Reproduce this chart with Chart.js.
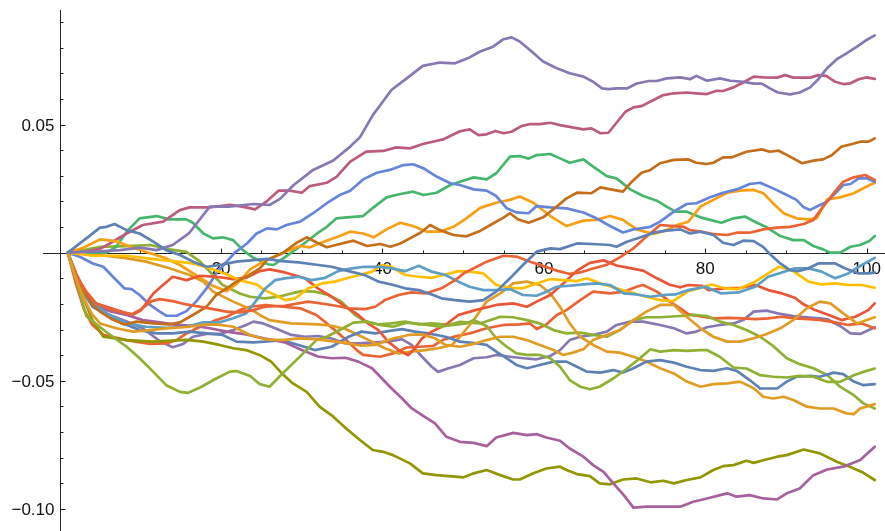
<!DOCTYPE html>
<html><head><meta charset="utf-8">
<script src="https://cdn.jsdelivr.net/npm/chart.js@4/dist/chart.umd.min.js"></script>
<style>html,body{margin:0;padding:0;background:#fff;}#wrap{width:885px;height:531px;}</style>
</head><body><div id="wrap"><canvas id="c" width="885" height="531"></canvas></div>
<script>
const xTickValues = [20, 40, 60, 80, 100];
const xTickLabels = ['20', '40', '60', '80', '100'];
const yTickValues = [0.05, -0.05, -0.10];
const yTickLabels = ['0.05', '\u22120.05', '\u22120.10'];

const blueB1 = [[1,0],[3.3,0.0056],[5,0.0098],[5.8,0.0101],[6.8,0.0112],[8.3,0.0088],[9.9,0.0075],[11.6,0.0043],[13.2,0.001],[14.9,-0.0009],[16.5,-0.0035],[18.2,-0.0055],[19.9,-0.0048],[21.9,-0.0035],[24,-0.0029],[25.7,-0.0024],[27.5,-0.0033],[29.6,-0.0038],[31.6,-0.0046],[33.7,-0.0055],[35.8,-0.0072],[37.8,-0.0087],[39.5,-0.0113],[41.1,-0.0124],[42.8,-0.0139],[44.5,-0.0146],[46.1,-0.0163],[47.3,-0.0178],[49,-0.0185],[50.8,-0.0191],[52.5,-0.0185],[54.1,-0.0152],[55.8,-0.01],[57.4,-0.0048],[59.1,0.0004],[60.8,0.0017],[62,0.0014],[64.1,0.0036],[66.5,0.0033],[68.2,0.003],[69,0.0023],[70.3,0.0043],[71.9,0.0059],[73.6,0.0078],[75.2,0.0086],[76.9,0.0091],[78.1,0.0075],[79.4,0.0082],[81,0.0069],[82.2,0.0039],[83.5,0.003],[84.7,0.0047],[86,0.0045],[87.2,0.0022],[88,-0.0005],[89.3,-0.0042],[90.5,-0.0068],[91.5,-0.0072],[92.8,-0.0061],[94,-0.0042],[96.1,-0.0042],[97.3,-0.0061],[99,-0.0081],[100.2,-0.0081],[101,-0.0078]];
const orangeO1 = [[1,0],[2,-0.01],[3,-0.018],[4,-0.024],[5,-0.0276],[7,-0.0295],[9.1,-0.0308],[11.2,-0.0302],[13.2,-0.0295],[15.7,-0.029],[17.8,-0.0282],[19.4,-0.028],[21.5,-0.0289],[23.6,-0.0321],[25.4,-0.0338],[27.5,-0.0341],[29.6,-0.0334],[31.6,-0.0337],[33.7,-0.0345],[35.8,-0.0354],[37.4,-0.0363],[39.1,-0.036],[41.1,-0.0337],[43.2,-0.0321],[44.9,-0.0319],[46.5,-0.0334],[47.8,-0.036],[49.6,-0.0367],[51.3,-0.0356],[52.9,-0.0341],[54.6,-0.0328],[56.2,-0.0328],[57.9,-0.0341],[59.5,-0.036],[61.2,-0.038],[62.4,-0.0399],[63.6,-0.039],[64.9,-0.0377],[66.1,-0.0341],[67.8,-0.0321],[69.4,-0.0302],[71.1,-0.0263],[72.7,-0.023],[74.4,-0.0204],[76.1,-0.0204],[77.7,-0.025],[79.4,-0.0295],[81,-0.0328],[82.7,-0.0347],[84.3,-0.0347],[86,-0.0334],[87.6,-0.0317],[89.3,-0.0295],[90.9,-0.0263],[92.6,-0.0217],[94.2,-0.0191],[95.5,-0.0198],[97.1,-0.0237],[98.8,-0.0276],[101,-0.0252]];
const greenG1 = [[1,0],[2,-0.01],[3.3,-0.0248],[6.2,-0.032],[8.3,-0.0367],[9.9,-0.0412],[11.6,-0.0465],[13.2,-0.0517],[14.9,-0.0543],[15.9,-0.0547],[17.4,-0.0526],[19.4,-0.0491],[21.1,-0.0464],[21.9,-0.0462],[23.6,-0.0481],[24.8,-0.0513],[26,-0.0523],[27.3,-0.0481],[28.9,-0.0432],[30.6,-0.038],[31.8,-0.0341],[33.1,-0.0328],[35.1,-0.0295],[36.4,-0.0273],[38,-0.0269],[39.7,-0.0282],[41.3,-0.0289],[43,-0.0273],[44.6,-0.0278],[47.1,-0.0289],[48.8,-0.0282],[50.4,-0.0276],[51.3,-0.0263],[52.9,-0.0286],[54.1,-0.0334],[55.4,-0.0367],[56.6,-0.0393],[57.9,-0.0399],[59.5,-0.0399],[60.8,-0.0412],[62,-0.0445],[63.2,-0.0497],[64.5,-0.0523],[65.7,-0.0533],[66.9,-0.0523],[68.6,-0.0491],[70.3,-0.0452],[71.9,-0.0412],[73.2,-0.0377],[74.4,-0.0386],[76.1,-0.038],[77.7,-0.0383],[79.4,-0.038],[80.2,-0.038],[81.8,-0.0406],[83.5,-0.0448],[85.1,-0.0452],[86.8,-0.0478],[88.4,-0.0484],[90.1,-0.0487],[91.7,-0.0481],[93.4,-0.0484],[95.1,-0.0504],[96.7,-0.0504],[98.4,-0.0478],[99.6,-0.0465],[101,-0.0452]];
const redA = [[1,0],[2,-0.0087],[3.3,-0.0152],[4.5,-0.0198],[6.2,-0.022],[7.9,-0.0233],[8.9,-0.0241],[10.1,-0.022],[11.4,-0.0189],[12.4,-0.0181],[14,-0.0189],[15.7,-0.0202],[17.4,-0.0211],[19,-0.022],[20.7,-0.023],[22.3,-0.0233],[24,-0.0224],[25.4,-0.0211],[27.9,-0.0207],[30.8,-0.0191],[33.7,-0.0204],[35.8,-0.0217],[37.8,-0.022],[39.1,-0.0211],[40.3,-0.0185],[42,-0.0165],[43.6,-0.0155],[45.3,-0.0159],[47.3,-0.0139],[49,-0.0107],[50.2,-0.0078],[51.5,-0.0058],[52.9,-0.0035],[55,-0.0012],[56.6,-0.0015],[58.3,-0.0035],[59.9,-0.0052],[61.6,-0.007],[63.2,-0.0083],[64.5,-0.0077],[66.1,-0.0062],[67.8,-0.0047],[69.4,-0.0018],[71.1,0.0017],[72.7,0.0062],[74.4,0.0108],[76.1,0.0104],[77.3,0.0101],[78.1,0.0088],[79.4,0.0082],[81,0.0073],[82.7,0.0069],[83.9,0.0078],[85.5,0.0078],[87.2,0.0091],[88.9,0.0098],[90.5,0.0101],[92.2,0.0112],[93.4,0.0128],[94.6,0.018],[95.9,0.0232],[97.1,0.0277],[98.4,0.0294],[99.8,0.0303],[101,0.0284]];
const purpleTop = [[1,0],[3,0.0003],[5,0.0005],[7.5,0.001],[10,0.002],[12,0.001],[14,0.003],[16,0.0075],[18.6,0.018],[21,0.018],[24,0.019],[26,0.0186],[27.3,0.021],[29,0.0264],[31.4,0.0323],[33.9,0.036],[36,0.0414],[37.2,0.045],[38.8,0.0537],[39.9,0.0583],[41.1,0.0635],[43,0.068],[45,0.0729],[47.1,0.0742],[49,0.0739],[50.8,0.0762],[52.1,0.0785],[53.7,0.0804],[55,0.0833],[56,0.084],[57,0.0824],[58.3,0.079],[59.9,0.0746],[61.6,0.072],[63.2,0.07],[64.9,0.0687],[66.1,0.0667],[67.2,0.0641],[68,0.0638],[69,0.0641],[70.3,0.0641],[71.5,0.066],[73,0.067],[74,0.067],[75.2,0.068],[76.9,0.0684],[78.1,0.0677],[78.9,0.069],[80.2,0.0671],[81.8,0.068],[83.1,0.0671],[84.7,0.0667],[86,0.066],[87,0.066],[88,0.0641],[89,0.0625],[90.5,0.0618],[91.7,0.0625],[93,0.0645],[94,0.0677],[95.1,0.072],[96.3,0.0755],[97.5,0.0778],[98.8,0.0804],[100,0.083],[101,0.0848]];
const brown = [[1,0],[2,-0.008],[3,-0.015],[4,-0.02],[5,-0.023],[6.5,-0.026],[8,-0.028],[9.5,-0.0269],[11.6,-0.0276],[13.6,-0.028],[14.9,-0.0272],[16.5,-0.0243],[18.2,-0.0211],[19.4,-0.0165],[20.7,-0.0139],[21.9,-0.0113],[23.1,-0.0094],[24.8,-0.0061],[25.7,-0.0029],[27.7,0],[29.4,0.0039],[30.6,0.006],[31.9,0.0039],[33.1,0.0021],[34.7,0.0034],[36.4,0.0047],[38.1,0.0026],[39.7,0.0034],[41,0.0023],[42.2,0.0036],[43.4,0.0056],[44.7,0.0078],[45.9,0.0108],[47.1,0.0088],[48.8,0.0069],[50.4,0.0064],[52.1,0.0085],[53.7,0.0114],[55,0.0137],[55.8,0.0154],[56.8,0.013],[58.1,0.0117],[59.9,0.0138],[61.6,0.018],[62.8,0.0212],[64.1,0.0234],[65.9,0.0232],[67,0.0255],[68.6,0.0245],[69.8,0.0238],[70.9,0.0277],[72.1,0.0312],[73.2,0.0323],[74.4,0.0349],[76.1,0.0362],[77.9,0.0364],[78.9,0.0351],[80.2,0.0346],[81,0.0351],[82.2,0.0372],[83.3,0.0372],[85.1,0.0394],[87,0.0403],[88,0.0394],[89.1,0.0398],[90.5,0.0375],[92,0.0349],[93.4,0.0359],[94.6,0.0364],[95.7,0.0381],[96.9,0.0414],[98.2,0.0424],[99.2,0.0433],[100.2,0.0433],[101,0.0446]];
const lightBlue = [[1,0],[2,-0.01],[3.5,-0.018],[5.8,-0.0237],[8.3,-0.0276],[10.7,-0.0289],[13.2,-0.0293],[15.7,-0.0289],[17.8,-0.0272],[19.8,-0.0272],[21.5,-0.0256],[23.1,-0.0237],[24.4,-0.0185],[25.4,-0.0142],[26.7,-0.0107],[27.9,-0.01],[29.6,-0.0094],[31.2,-0.0107],[32.9,-0.0098],[34.5,-0.0072],[36.2,-0.0061],[37.8,-0.0055],[39.5,-0.0055],[41.1,-0.0061],[42.8,-0.0072],[44.5,-0.0051],[46.1,-0.0074],[47.8,-0.0087],[49.4,-0.0113],[50.8,-0.0133],[52.5,-0.0146],[54.1,-0.0146],[55.8,-0.0142],[57.4,-0.0165],[59.1,-0.0168],[60.3,-0.0152],[61.6,-0.0133],[63.2,-0.0129],[64.9,-0.0124],[66.5,-0.012],[68.2,-0.0126],[69.9,-0.0159],[71.5,-0.0163],[73.2,-0.0172],[74.8,-0.0165],[76.3,-0.0163],[77.9,-0.0146],[80,-0.0133],[82,-0.0159],[84.1,-0.0155],[86.2,-0.0133],[87.8,-0.0094],[89.5,-0.0077],[91.1,-0.0061],[92.8,-0.0061],[94.4,-0.0074],[96.1,-0.01],[97.7,-0.0081],[99.4,-0.0048],[101,-0.002]];
const yellow = [[1,0],[4.1,-0.0012],[8.3,-0.0012],[11.6,-0.0025],[14,-0.0033],[16.5,-0.0042],[18.6,-0.0061],[20.7,-0.0085],[22.3,-0.0107],[24.4,-0.0124],[25.4,-0.0146],[26.7,-0.0165],[27.9,-0.0185],[29.2,-0.0178],[30.8,-0.0139],[32.5,-0.012],[34.1,-0.0113],[35.8,-0.0098],[37.4,-0.0085],[38.7,-0.0074],[39.9,-0.0048],[41.1,-0.0055],[42.8,-0.0087],[44.5,-0.0094],[46.1,-0.0098],[47.8,-0.0085],[49.4,-0.0072],[50.8,-0.0074],[52.5,-0.0081],[54.1,-0.0126],[55.8,-0.0137],[57.4,-0.0139],[59.1,-0.012],[60.8,-0.0103],[62.4,-0.0107],[64.1,-0.0111],[65.3,-0.01],[67.4,-0.0124],[69,-0.0139],[70.7,-0.0155],[72.7,-0.0172],[74.4,-0.0185],[76,-0.0189],[77.9,-0.015],[80.8,-0.0124],[82.4,-0.0139],[84.1,-0.0142],[86.2,-0.0113],[87.8,-0.0081],[89.1,-0.0055],[90.7,-0.0068],[92.8,-0.0113],[94.4,-0.0124],[96.1,-0.012],[97.7,-0.0126],[99.4,-0.0126],[101,-0.0137]];
const magenta = [[1,0],[2.5,-0.0133],[4.1,-0.0204],[6.2,-0.0228],[8.3,-0.0243],[10.3,-0.0263],[12.4,-0.0272],[14.5,-0.0282],[16.5,-0.0285],[18.6,-0.0295],[20.7,-0.0308],[23.1,-0.0319],[25.4,-0.0335],[27.9,-0.035],[30,-0.038],[32,-0.0405],[33.7,-0.0412],[35.4,-0.041],[37,-0.0425],[38.7,-0.0451],[39.9,-0.049],[41.1,-0.0529],[42.4,-0.0568],[43.6,-0.0607],[44.9,-0.0634],[46.5,-0.0666],[47.9,-0.0718],[49.6,-0.0738],[51.3,-0.0742],[52.9,-0.0755],[54.1,-0.0721],[56.2,-0.0703],[57.9,-0.0712],[59.1,-0.0708],[60.3,-0.0721],[62,-0.0734],[63.2,-0.0764],[64.9,-0.0796],[66.1,-0.0829],[67.4,-0.0855],[68.6,-0.09],[69.9,-0.0946],[71.1,-0.0995],[72.7,-0.0991],[74.4,-0.0991],[76.9,-0.0991],[78.5,-0.0972],[80.2,-0.0959],[82.7,-0.0939],[83.9,-0.0952],[85.5,-0.0946],[87.2,-0.0959],[88.9,-0.0963],[90.1,-0.0939],[91.7,-0.092],[93.4,-0.0868],[95.1,-0.0846],[97.1,-0.0835],[99.2,-0.0809],[101,-0.0757]];
const olive = [[1,0],[2,-0.01],[3,-0.018],[4,-0.026],[5.4,-0.0328],[8.3,-0.0341],[11.6,-0.0347],[15.7,-0.034],[17.8,-0.0347],[19.8,-0.036],[21.5,-0.0373],[23.1,-0.038],[24.8,-0.04],[26.2,-0.0425],[27.5,-0.047],[28.9,-0.051],[30.6,-0.0543],[32.2,-0.0601],[33.9,-0.064],[35.5,-0.0686],[37.2,-0.0731],[38.8,-0.077],[40.1,-0.0777],[41.3,-0.079],[43.4,-0.0822],[45,-0.0861],[46.7,-0.0868],[48.3,-0.0872],[50,-0.0877],[51.3,-0.0861],[52.9,-0.0848],[54.6,-0.0868],[56.2,-0.0885],[57,-0.0885],[58.7,-0.0861],[60.3,-0.0842],[62,-0.0835],[62.8,-0.0848],[64.1,-0.0864],[65.7,-0.0872],[66.9,-0.09],[68.2,-0.0904],[69.8,-0.0885],[71.5,-0.0881],[73.2,-0.0896],[74.8,-0.089],[76.1,-0.09],[77.7,-0.0887],[79.4,-0.0877],[81,-0.0848],[82.2,-0.0833],[83.5,-0.0829],[85.1,-0.0812],[86,-0.082],[87.2,-0.081],[88.9,-0.0796],[90.1,-0.079],[92.2,-0.0768],[94.2,-0.0783],[96.3,-0.0816],[97.9,-0.0835],[99.6,-0.0859],[101,-0.0887]];
const redC = [[1,0],[2.1,-0.0087],[3.3,-0.0159],[4.5,-0.0198],[6.2,-0.0215],[7.9,-0.0233],[9.1,-0.0241],[10.1,-0.0224],[11.6,-0.0159],[12.8,-0.0126],[14,-0.0094],[15.7,-0.0107],[17.4,-0.009],[19.4,-0.0094],[21.5,-0.0103],[23.1,-0.0098],[24.8,-0.0072],[26,-0.0065],[27.9,-0.0077],[30.4,-0.01],[32,-0.0139],[33.7,-0.0172],[35.4,-0.0211],[37,-0.0243],[38.2,-0.0276],[39.5,-0.0302],[40.7,-0.0347],[42,-0.038],[43.2,-0.04],[44,-0.0373],[44.9,-0.0334],[46.1,-0.0308],[47.8,-0.0282],[49.4,-0.0243],[51.5,-0.0224],[54.1,-0.0204],[56.2,-0.0198],[57.9,-0.0211],[59.1,-0.0191],[60.8,-0.0165],[62.4,-0.012],[64.1,-0.007],[65.7,-0.004],[67.4,-0.003],[69,-0.005],[70.7,-0.006],[72.3,-0.007],[74,-0.01],[75.6,-0.0125],[76.9,-0.0135],[77.9,-0.0126],[79.6,-0.0129],[80.4,-0.0146],[82.4,-0.0139],[84.5,-0.0137],[86.2,-0.0126],[87.8,-0.0146],[89.5,-0.0159],[91.1,-0.0176],[92,-0.0198],[93.6,-0.0224],[95.3,-0.0243],[96.9,-0.0263],[98.6,-0.025],[100.2,-0.0224],[101,-0.0198]];
const blue12 = [[1,0],[2.5,-0.0016],[4.1,-0.0042],[5.4,-0.0055],[6.6,-0.0094],[8,-0.0139],[8.9,-0.0142],[9.9,-0.0165],[11.2,-0.0204],[12.4,-0.023],[13.2,-0.0246],[14.5,-0.0246],[15.7,-0.0228],[16.9,-0.0191],[18.2,-0.0139],[19.4,-0.0081],[20.7,-0.0035],[21.7,0],[23.2,0.0036],[24.4,0.0075],[25.7,0.0095],[26.9,0.0091],[28.1,0.0108],[29.8,0.0121],[31.4,0.0154],[33.1,0.0193],[34.7,0.0225],[36,0.0242],[37.6,0.0286],[39.3,0.0312],[40.9,0.0323],[42.6,0.0342],[43.8,0.0345],[45.1,0.0329],[46.7,0.0297],[48.4,0.0271],[49.6,0.0264],[51.3,0.0247],[52.9,0.0242],[54.1,0.0221],[55.4,0.0173],[56.6,0.0157],[58.1,0.0154],[59.1,0.0182],[60.8,0.0177],[62.8,0.0173],[64.9,0.0157],[66.5,0.0134],[68.2,0.0104],[69.8,0.0079],[71.1,0.0091],[73.2,0.0101],[74.4,0.0121],[76.1,0.016],[77.7,0.019],[78.9,0.0193],[80.6,0.0216],[82.2,0.0234],[83.9,0.0247],[85.5,0.0268],[86.8,0.0273],[88.4,0.0251],[90.1,0.0225],[91.3,0.0206],[92.2,0.0177],[93,0.0167],[94.2,0.0186],[95.1,0.0199],[96.1,0.0232],[97.1,0.0264],[98,0.0268],[99,0.029],[100,0.029],[101,0.0277]];
const orange13 = [[1,0],[3,0.002],[5,0.0052],[7,0.0045],[9,0.002],[11,0],[13,-0.002],[15,-0.005],[17,-0.009],[19,-0.013],[20.7,-0.015],[22,-0.012],[23.6,-0.0065],[25.5,-0.003],[27,-0.001],[28.5,0.001],[29.8,0.0026],[31,0.0021],[32.7,0.0043],[34.3,0.006],[36,0.0082],[37.6,0.0075],[38.9,0.006],[40.5,0.0091],[42.2,0.0117],[43.8,0.0104],[45.5,0.0082],[47.1,0.0082],[48.8,0.0101],[50.4,0.0134],[52.1,0.0175],[54.1,0.0195],[55.8,0.0206],[57,0.0219],[58.7,0.0195],[60.8,0.0143],[62.8,0.0104],[64.9,0.0125],[66.5,0.0128],[68.2,0.0143],[69.8,0.0128],[71.5,0.0091],[73.6,0.0073],[75.2,0.0088],[76.5,0.0108],[77.9,0.0121],[79.4,0.018],[81,0.0206],[82.7,0.0234],[84.3,0.0242],[86,0.0245],[87.2,0.0232],[88.2,0.0199],[89.7,0.0154],[91.3,0.0134],[92.6,0.013],[93.8,0.0134],[95.1,0.0208],[96.7,0.0216],[98.4,0.0232],[100,0.0258],[101,0.0273]];
const pink = [[1,0],[3,0.0003],[5,0.0015],[6.2,0.0036],[8.3,0.0075],[10.3,0.0108],[12.8,0.0121],[14.9,0.0166],[16.1,0.0177],[18.6,0.0177],[21.1,0.0187],[23.1,0.0177],[24.2,0.0169],[25.6,0.0199],[27.1,0.0242],[28.5,0.0242],[30,0.0234],[31,0.026],[33.1,0.0273],[34.3,0.0296],[36,0.0355],[38,0.0394],[40.1,0.0397],[41.7,0.0411],[43.4,0.0407],[45,0.0424],[47.5,0.0442],[49.6,0.0474],[50.8,0.0481],[51.9,0.0459],[52.9,0.0462],[54,0.0475],[55,0.0466],[56,0.0472],[57.2,0.0494],[58.3,0.0502],[59.5,0.0502],[60.8,0.0507],[62,0.0498],[63.7,0.0488],[64.9,0.0481],[65.9,0.0485],[67,0.0466],[68,0.0468],[69,0.0507],[70.1,0.055],[71.1,0.0567],[72.1,0.0572],[73.4,0.0593],[74.8,0.0615],[76.1,0.0622],[77.7,0.0625],[78.9,0.0622],[80.2,0.0619],[81.4,0.0632],[82.2,0.0631],[83.5,0.0645],[84.7,0.0664],[86,0.0687],[87.2,0.0684],[88.9,0.0683],[89.9,0.0693],[90.9,0.0683],[93,0.0683],[94,0.0693],[95,0.069],[96.1,0.0667],[97.1,0.0658],[98,0.0661],[99,0.0677],[100,0.0684],[101,0.0678]];
const green15 = [[1,0],[4.1,0],[5.8,0],[7,0.0023],[8.3,0.0082],[9.9,0.0134],[12,0.0143],[13.6,0.013],[15.7,0.013],[16.5,0.0117],[17.8,0.0075],[19,0.0056],[20.2,0.006],[21.5,0.0049],[22.7,0.001],[24,-0.002],[25.8,-0.0045],[26.5,-0.0048],[28.1,-0.0013],[30.2,0.0034],[31.9,0.0075],[33.1,0.0101],[34.3,0.0134],[35.6,0.0138],[37.6,0.0143],[38.9,0.0177],[40.5,0.0216],[42.2,0.0229],[43.8,0.0238],[45.1,0.0225],[46.7,0.0234],[48.4,0.0264],[49.6,0.0277],[51.3,0.0294],[52.9,0.0286],[54.1,0.031],[55.8,0.0375],[57,0.0377],[58.1,0.0367],[59.1,0.0381],[60.8,0.0385],[62,0.0368],[63.2,0.0351],[64.9,0.0364],[66.1,0.0336],[67.8,0.0299],[69,0.029],[70.7,0.0247],[72.3,0.0221],[74,0.0203],[75.2,0.018],[76.3,0.016],[77.7,0.016],[79.4,0.0138],[80.6,0.0128],[82,0.0117],[83.5,0.0134],[84.9,0.0141],[86.4,0.0117],[87.6,0.0099],[89.3,0.0065],[90.9,0.0049],[92.2,0.0049],[93.4,0.0026],[94.6,0.0013],[95.5,0],[96.7,0],[98,0.0023],[99.2,0.003],[100.4,0.0047],[101,0.0065]];
const blueB2 = [[1,0],[2.5,-0.0126],[4.1,-0.0211],[5.8,-0.0243],[7.9,-0.0276],[9.9,-0.0302],[12,-0.0315],[14,-0.0315],[16.1,-0.0308],[18.2,-0.0315],[20.2,-0.0321],[21.9,-0.0347],[24,-0.035],[25.4,-0.0347],[27.5,-0.0341],[29.6,-0.036],[31.6,-0.038],[33.7,-0.0367],[35.8,-0.0328],[37.4,-0.0308],[39.1,-0.0315],[40.7,-0.0306],[42.4,-0.0298],[44,-0.0308],[45.7,-0.0315],[47.8,-0.0328],[49.6,-0.0347],[51.7,-0.0354],[52.9,-0.036],[54.1,-0.0386],[55.4,-0.0412],[56.6,-0.0438],[57.9,-0.0451],[59.5,-0.0438],[61.2,-0.0425],[62.8,-0.0425],[64.1,-0.0445],[65.3,-0.0464],[67,-0.0468],[68.6,-0.0458],[69.8,-0.0468],[71.1,-0.0451],[72.7,-0.0425],[74.4,-0.0419],[76.1,-0.0429],[77.7,-0.0445],[79.4,-0.0458],[81,-0.0461],[82.7,-0.0451],[83.9,-0.0461],[85.5,-0.0497],[86.8,-0.053],[88.9,-0.053],[90.1,-0.0503],[91.3,-0.0484],[93,-0.0481],[94.2,-0.0484],[95.9,-0.0468],[97.1,-0.0474],[98.4,-0.0503],[99.6,-0.0517],[101,-0.0513]];
const orangeO2 = [[1,0],[3,-0.0005],[5,-0.001],[8,-0.002],[10.7,-0.0035],[13.6,-0.0061],[16.1,-0.0087],[17.8,-0.0113],[19,-0.0152],[21.5,-0.0191],[23.6,-0.022],[24.8,-0.0243],[26,-0.0263],[28.7,-0.0276],[32,-0.028],[33.7,-0.0285],[35.4,-0.0298],[37,-0.0321],[38.7,-0.0347],[40.3,-0.0373],[42,-0.0393],[43.6,-0.0386],[45.3,-0.038],[46.9,-0.0373],[48.6,-0.036],[49.6,-0.0328],[51.3,-0.0263],[52.9,-0.0191],[54.6,-0.0159],[56.2,-0.012],[57.9,-0.0113],[59.5,-0.0126],[60.8,-0.0159],[62,-0.0211],[63.2,-0.0276],[64.5,-0.0328],[66.1,-0.036],[67.8,-0.0386],[69.4,-0.039],[71.1,-0.0406],[72.7,-0.0425],[74.4,-0.0451],[76.1,-0.0471],[77.7,-0.0503],[79.4,-0.0523],[81,-0.0513],[82.7,-0.051],[84.3,-0.0503],[86,-0.0529],[87.2,-0.0562],[88.4,-0.0569],[89.7,-0.0562],[90.9,-0.0575],[92.6,-0.0601],[94.2,-0.0608],[95.9,-0.0608],[97.5,-0.0627],[98.4,-0.063],[99.2,-0.0608],[101,-0.0591]];
const greenG2 = [[1,0],[3,0.001],[5,0.0023],[8.3,0.0026],[11.2,0.003],[13.6,0.0013],[15.7,0.0003],[17.4,-0.0035],[19,-0.0087],[20.2,-0.0126],[22.3,-0.0159],[23.6,-0.0172],[25.4,-0.0178],[27.1,-0.0172],[28.7,-0.0159],[30,-0.015],[31.6,-0.0152],[33.3,-0.0165],[34.9,-0.0191],[36.6,-0.0243],[37.8,-0.0267],[39.5,-0.028],[41.1,-0.0276],[42.8,-0.0269],[44.5,-0.028],[46.1,-0.0276],[48.2,-0.0282],[49.6,-0.027],[52.1,-0.0276],[54.6,-0.025],[56.2,-0.0252],[57.9,-0.0263],[59.5,-0.0276],[61.2,-0.0302],[62.8,-0.0315],[64.5,-0.0312],[66.1,-0.0321],[67.8,-0.0328],[69.4,-0.0302],[71.1,-0.0263],[72.7,-0.0252],[74.4,-0.0252],[76.9,-0.0247],[78.5,-0.0243],[80.2,-0.0247],[81.8,-0.0269],[83.5,-0.0282],[85.1,-0.0302],[86.8,-0.0328],[88.4,-0.0364],[90.1,-0.0412],[91.7,-0.0435],[93.4,-0.0451],[95.1,-0.0477],[96.7,-0.0523],[98.4,-0.0556],[99.6,-0.0588],[101,-0.0608]];
const redB = [[1,0],[2,-0.012],[3,-0.022],[4,-0.028],[5.4,-0.032],[8.3,-0.0341],[11.2,-0.0356],[13.2,-0.0354],[14.5,-0.0341],[15.7,-0.0315],[17.4,-0.0289],[19.4,-0.0263],[20.7,-0.025],[22.3,-0.0224],[23.6,-0.0211],[25.6,-0.0204],[27.7,-0.0211],[29.8,-0.0217],[31.8,-0.0243],[33.1,-0.0276],[34.3,-0.0308],[35.5,-0.0341],[36.8,-0.038],[37.6,-0.0399],[39.7,-0.0406],[41.3,-0.0393],[43,-0.037],[44.6,-0.0367],[46.3,-0.0364],[47.5,-0.034],[49.2,-0.0325],[50.8,-0.0315],[52.9,-0.0295],[55,-0.0282],[57,-0.028],[58.3,-0.0276],[59.1,-0.0298],[60.3,-0.028],[61.6,-0.0243],[62.8,-0.0224],[64.5,-0.0185],[66.1,-0.0152],[68.2,-0.0159],[69.9,-0.0152],[71.5,-0.0133],[72.3,-0.0126],[74,-0.0152],[75.6,-0.0191],[76.9,-0.0217],[77.9,-0.024],[79.6,-0.025],[81.2,-0.0256],[82.9,-0.0254],[84.5,-0.0256],[86.2,-0.0259],[87.8,-0.0256],[89.5,-0.025],[91.1,-0.0256],[92.8,-0.0259],[94.4,-0.0263],[96.1,-0.0272],[97.7,-0.0282],[99.4,-0.0276],[101,-0.0295]];
const purpleLow = [[1,0],[2.5,-0.0139],[4.1,-0.0211],[6.2,-0.0243],[8.3,-0.0269],[10.3,-0.0295],[12.4,-0.0345],[14,-0.0369],[15.3,-0.0356],[16.5,-0.0328],[18.2,-0.0317],[19.8,-0.0317],[21.5,-0.0302],[23.1,-0.0282],[24,-0.0269],[25.2,-0.0276],[26.4,-0.0291],[28.7,-0.0321],[30.4,-0.0328],[32,-0.0325],[33.7,-0.0335],[35.4,-0.0354],[37,-0.0354],[39.1,-0.035],[40.7,-0.0347],[42.4,-0.0337],[43.6,-0.036],[44.9,-0.0406],[46.1,-0.0445],[46.9,-0.0465],[48.2,-0.0451],[49.6,-0.0438],[51.3,-0.0412],[52.9,-0.0408],[54.1,-0.0399],[55.8,-0.0406],[57.5,-0.0412],[59.1,-0.0416],[60.8,-0.0403],[62,-0.038],[63.2,-0.0341],[64.5,-0.0328],[66.1,-0.0321],[67.8,-0.0308],[69,-0.0282],[70.7,-0.0269],[72.3,-0.0269],[74.4,-0.0282],[76.1,-0.0295],[77.7,-0.0315],[78.9,-0.0308],[80.2,-0.0291],[81.8,-0.0282],[83.5,-0.0276],[84.7,-0.0263],[86,-0.023],[87.6,-0.0226],[89.3,-0.0239],[90.9,-0.0247],[92.6,-0.0252],[94.2,-0.0256],[95.1,-0.026],[96.7,-0.0286],[98,-0.0315],[99.2,-0.0317],[101,-0.0291]];

const seriesList = [blueB1, orangeO1, greenG1, redA, purpleTop, brown, lightBlue, yellow, magenta, olive, redC, blue12, orange13, pink, green15, blueB2, orangeO2, greenG2, redB, purpleLow];
const seriesColors = ['#5E81B5','#E19C24','#8FB032','#EB6235','#8778B3','#C56E1A','#5D9EC7','#FFBF00','#A5609D','#929600','#E95536','#6685D9','#F89F13','#BC5B80','#47B66D','#5E81B5','#E19C24','#8FB032','#EB6235','#8778B3'];

const FONT = '17px "Liberation Sans", Arial, sans-serif';
const axesPlugin = {
  id: 'mmaAxes',
  beforeDatasetsDraw(chart) {
    const ctx = chart.ctx, xs = chart.scales.x, ys = chart.scales.y, a = chart.chartArea;
    const x0 = Math.round(xs.getPixelForValue(0)) + 0.5;
    const y0 = Math.round(ys.getPixelForValue(0)) + 0.5;
    ctx.save();
    ctx.strokeStyle = '#222';
    ctx.lineWidth = 1;
    ctx.beginPath();
    ctx.moveTo(a.left, y0); ctx.lineTo(a.right, y0);
    ctx.moveTo(x0, a.top); ctx.lineTo(x0, a.bottom);
    for (let v = 5; v <= 100; v += 5) {
      const px = Math.round(xs.getPixelForValue(v)) + 0.5;
      const len = (v % 20 === 0) ? 5 : 3;
      ctx.moveTo(px, y0); ctx.lineTo(px, y0 - len);
    }
    for (let k = -10; k <= 9; k++) {
      if (k === 0) continue;
      const py = Math.round(ys.getPixelForValue(k / 100)) + 0.5;
      const len = (k % 5 === 0) ? 5 : 3;
      ctx.moveTo(x0, py); ctx.lineTo(x0 + len, py);
    }
    ctx.stroke();
    ctx.fillStyle = '#111';
    ctx.font = FONT;
    ctx.textAlign = 'center';
    ctx.textBaseline = 'alphabetic';
    xTickValues.forEach((v, i) => {
      ctx.fillText(xTickLabels[i], xs.getPixelForValue(v), y0 + 20.5);
    });
    ctx.textAlign = 'right';
    yTickValues.forEach((v, i) => {
      ctx.fillText(yTickLabels[i], x0 - 6, ys.getPixelForValue(v) + 6);
    });
    ctx.restore();
  }
};

new Chart(document.getElementById('c'), {
  type: 'line',
  data: {
    datasets: seriesList.map((d, i) => ({
      data: d,
      borderColor: seriesColors[i],
      backgroundColor: seriesColors[i],
      borderWidth: 2.7,
      pointRadius: 0,
      tension: 0,
      fill: false,
      borderJoinStyle: 'round',
      borderCapStyle: 'round'
    }))
  },
  options: {
    responsive: false,
    animation: false,
    devicePixelRatio: 1,
    layout: { padding: { left: 43, top: 10, right: 0, bottom: 0 } },
    plugins: { legend: { display: false }, tooltip: { enabled: false } },
    scales: {
      x: { type: 'linear', min: -2.07, max: 102.27, display: false },
      y: { type: 'linear', min: -0.1086, max: 0.0947, display: false }
    }
  },
  plugins: [axesPlugin]
});
</script></body></html>
